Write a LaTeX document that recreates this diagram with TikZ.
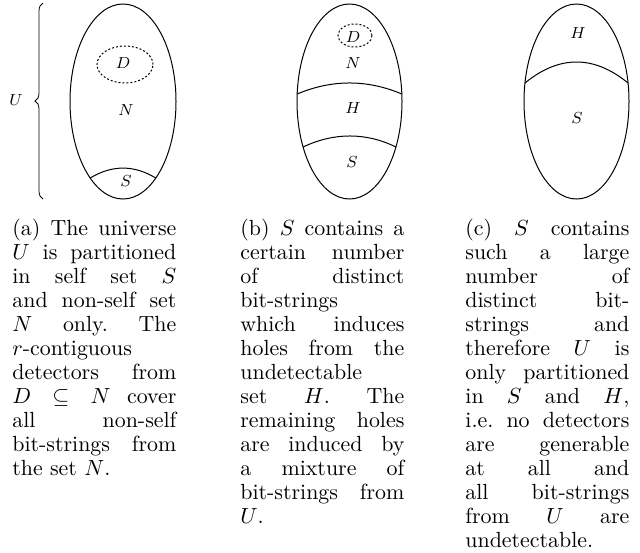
\documentclass[tikz,border=0pt]{standalone}
\usetikzlibrary{decorations.pathreplacing}
\begin{document}
\begin{tikzpicture}[x=0.5pt,y=-0.5pt,
  setline/.style={line width=0.5pt},
  dset/.style={line width=0.5pt, dash pattern=on 1pt off 1pt},
  lbl/.style={font=\fontsize{7.6}{9}\selectfont, inner sep=0pt},
  capbox/.style={anchor=north west, inner sep=0pt, text width=82pt, align=justify, font=\fontsize{10.95}{12}\selectfont\frenchspacing}]
\useasboundingbox (0,0) rectangle (640,552);

% (a)
\draw[setline] (123,101.5) ellipse [x radius=26.5pt, y radius=48.75pt];
\draw[dset] (125,64.5) ellipse [x radius=14pt, y radius=9.25pt];
\draw[setline] (90.2,178) .. controls (112,164.8) and (134,164.8) .. (155.8,178);
\node[lbl] (Da) at (123,63) {$D$};
\node[lbl] (Na) at (126,110) {$N$};
\node[lbl] (Sa) at (126,181) {$S$};
\coordinate (bt) at (43,199);
\coordinate (bb) at (43,3);
\draw[line width=0.4pt, decorate, decoration={brace, amplitude=4pt}] (bt) -- (bb);
\node[lbl] (U) at (16,100) {$U$};

% (b)
\draw[setline] (349.5,101.5) ellipse [x radius=26.25pt, y radius=48.75pt];
\draw[dset] (355,35.5) ellipse [x radius=8.5pt, y radius=5.75pt];
\draw[setline] (297.2,94) .. controls (332,79.3) and (367,79.3) .. (401.8,94);
\draw[setline] (303.1,147) .. controls (334,132.3) and (366,132.3) .. (395.9,147);
\node[lbl] (Db) at (353,37) {$D$};
\node[lbl] (Nb) at (353,63) {$N$};
\node[lbl] (Hb) at (353,108) {$H$};
\node[lbl] (Sb) at (352,162) {$S$};

% (c)
\draw[setline] (576.5,101.5) ellipse [x radius=26.25pt, y radius=48.75pt];
\draw[setline] (525,83) .. controls (559,55) and (594,55) .. (628,83);
\node[lbl] (Hc) at (578,33) {$H$};
\node[lbl] (Sc) at (577,118) {$S$};

% captions
\node[capbox] (capa) at (12,219) {\hyphenpenalty=10000\tolerance=10000
(a) The universe\linebreak $U$ is partitioned\linebreak in self set $S$\linebreak and non-self set\linebreak $N$ only. The\linebreak $r$-contiguous\linebreak detectors from\linebreak $D\subseteq N$ cover\linebreak all non-self\linebreak bit-strings from\linebreak the set $N$.};
\node[capbox] (capb) at (240,219) {\hyphenpenalty=10000\tolerance=10000
(b) $S$ contains a\linebreak certain number\linebreak of distinct\linebreak bit-strings\linebreak which induces\linebreak holes from the\linebreak undetectable\linebreak set $H$. The\linebreak remaining holes\linebreak are induced by\linebreak a mixture of\linebreak bit-strings from\linebreak $U$.};
\node[capbox] (capc) at (465,219) {\hyphenpenalty=10000\tolerance=10000
(c) $S$ contains\linebreak such a large\linebreak number of\linebreak distinct bit-\linebreak strings and\linebreak therefore $U$ is\linebreak only partitioned\linebreak in $S$ and $H$,\linebreak i.e. no detectors\linebreak are generable\linebreak at all and\linebreak all bit-strings\linebreak from $U$ are\linebreak undetectable.};
\end{tikzpicture}
\end{document}
